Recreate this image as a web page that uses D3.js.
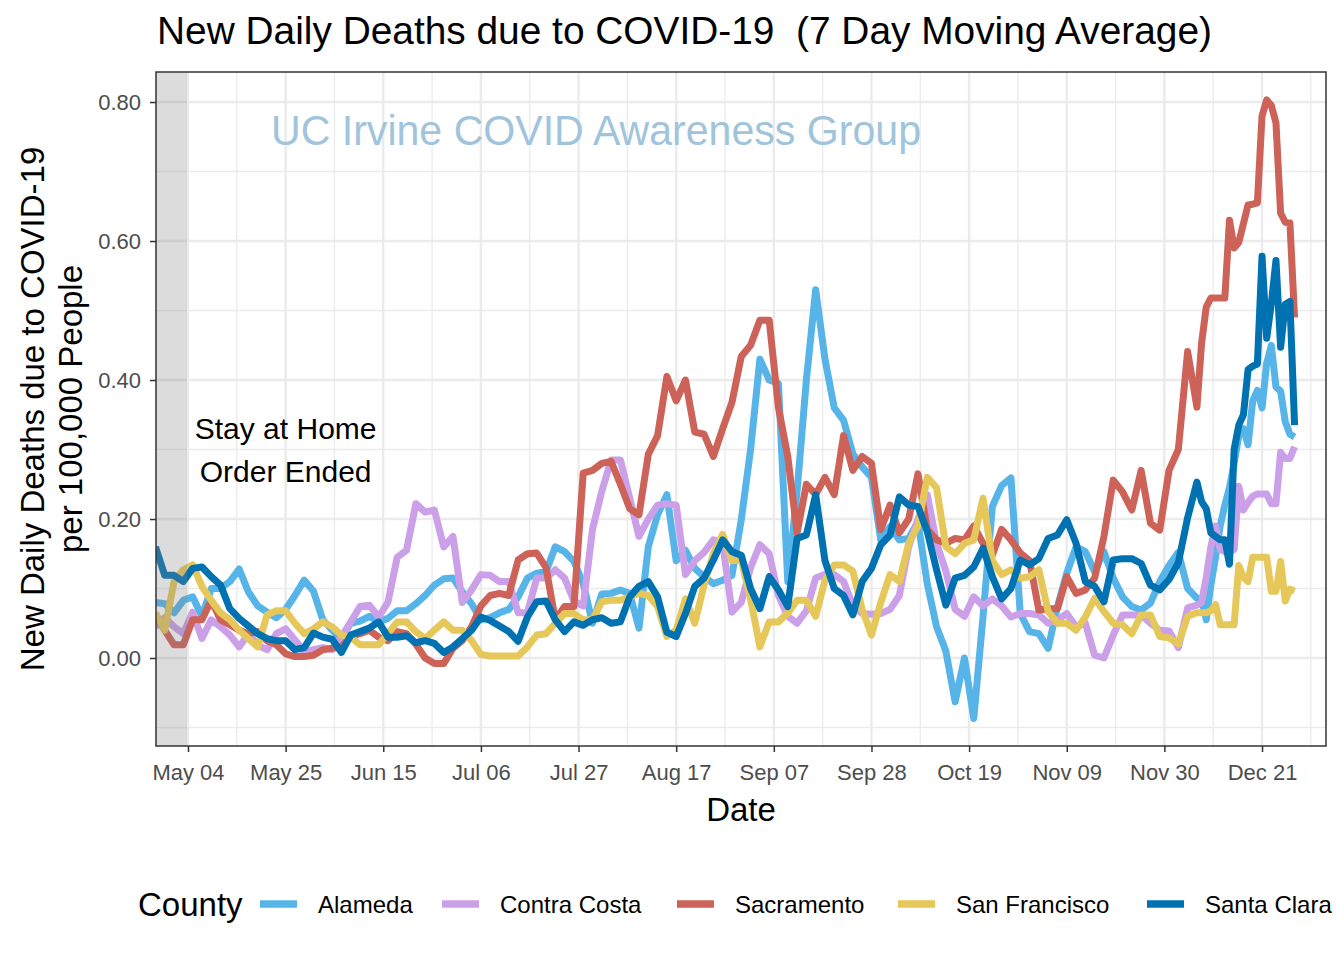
<!DOCTYPE html>
<html><head><meta charset="utf-8">
<script src="https://cdn.jsdelivr.net/npm/d3@7"></script>
<style>
body{margin:0;background:#fff;}
text{font-family:"Liberation Sans",Arial,Helvetica,sans-serif;}
</style></head>
<body>
<svg id="c" width="1344" height="960"></svg>
<script>
// ---------------- DATA ----------------
const counties = ["Alameda","Contra Costa","Sacramento","San Francisco","Santa Clara"];
const countyColors = ["#56B4E9","#CBA0E8","#CD6259","#E6C85A","#0072B2"];
// day offsets from 2020-04-27 (every 2 days, then daily from Dec 07)
const dayOffsets = d3.range(0,224,2).concat(d3.range(224,246));
const alameda = [
0.080,0.078,0.065,0.083,0.088,0.060,0.100,0.100,0.110,0.128,
0.095,0.075,0.066,0.058,0.070,0.090,0.112,0.096,0.055,0.040,
0.028,0.050,0.053,0.060,0.052,0.057,0.068,0.068,0.078,0.090,
0.105,0.114,0.115,0.095,0.078,0.055,0.058,0.065,0.070,0.088,
0.115,0.122,0.124,0.160,0.153,0.139,0.107,0.050,0.092,0.093,
0.098,0.093,0.043,0.160,0.206,0.235,0.140,0.155,0.129,0.117,
0.107,0.112,0.119,0.199,0.300,0.430,0.400,0.395,0.110,0.240,
0.400,0.530,0.430,0.360,0.342,0.294,0.275,0.260,0.170,0.189,
0.170,0.172,0.196,0.107,0.045,0.010,-0.063,0.000,-0.087,0.060,
0.218,0.248,0.259,0.064,0.038,0.035,0.014,0.074,0.122,0.160,
0.153,0.124,0.153,0.115,0.088,0.074,0.069,0.079,0.110,0.133,
0.152,0.100,
0.086,0.085,0.055,0.105,0.145,0.190,0.220,0.245,0.280,0.320,0.330,0.307,0.370,0.385,0.360,0.424,0.450,0.390,0.384,0.340,0.322,0.318];
const contraCosta = [
0.045,0.058,0.045,0.035,0.066,0.028,0.055,0.045,0.033,0.016,
0.035,0.018,0.012,0.035,0.042,0.026,0.009,0.012,0.015,0.012,
0.030,0.052,0.074,0.076,0.059,0.080,0.145,0.155,0.222,0.210,
0.213,0.160,0.175,0.080,0.098,0.120,0.119,0.110,0.110,0.065,
0.065,0.115,0.115,0.127,0.115,0.082,0.075,0.185,0.240,0.285,
0.285,0.230,0.175,0.200,0.220,0.222,0.220,0.120,0.140,0.152,
0.170,0.165,0.066,0.080,0.130,0.163,0.150,0.090,0.060,0.050,
0.068,0.115,0.120,0.120,0.110,0.076,0.064,0.063,0.064,0.070,
0.090,0.160,0.200,0.235,0.165,0.125,0.070,0.060,0.088,0.075,
0.085,0.075,0.059,0.064,0.064,0.062,0.050,0.055,0.064,0.045,
0.050,0.004,0.000,0.033,0.062,0.062,0.062,0.050,0.040,0.039,
0.015,0.072,
0.076,0.080,0.116,0.160,0.190,0.156,0.153,0.153,0.156,0.247,0.213,0.224,0.233,0.236,0.236,0.236,0.222,0.222,0.296,0.287,0.287,0.304];
const sacramento = [
0.062,0.040,0.019,0.019,0.055,0.055,0.083,0.055,0.048,0.040,
0.035,0.038,0.025,0.019,0.006,0.002,0.002,0.004,0.012,0.014,
0.016,0.031,0.035,0.040,0.030,0.025,0.038,0.035,0.020,0.000,
-0.008,-0.008,0.014,0.025,0.045,0.075,0.090,0.093,0.090,0.141,
0.150,0.151,0.130,0.055,0.074,0.074,0.266,0.270,0.280,0.283,
0.250,0.215,0.206,0.293,0.320,0.405,0.370,0.400,0.325,0.322,
0.290,0.330,0.368,0.434,0.450,0.486,0.486,0.360,0.290,0.180,
0.250,0.235,0.260,0.235,0.320,0.270,0.290,0.280,0.185,0.220,
0.180,0.200,0.265,0.185,0.170,0.165,0.172,0.170,0.190,0.165,
0.148,0.185,0.170,0.151,0.140,0.069,0.071,0.071,0.117,0.093,
0.098,0.115,0.175,0.256,0.239,0.213,0.270,0.194,0.184,0.270,
0.300,0.441,
0.361,0.453,0.505,0.518,0.518,0.518,0.518,0.630,0.590,0.598,0.625,0.652,0.653,0.655,0.780,0.803,0.795,0.770,0.640,0.627,0.626,0.490];
const sanFrancisco = [
0.065,0.040,0.110,0.127,0.134,0.103,0.083,0.065,0.055,0.040,
0.028,0.016,0.062,0.068,0.068,0.050,0.035,0.042,0.052,0.045,
0.033,0.030,0.019,0.019,0.019,0.035,0.052,0.052,0.038,0.028,
0.040,0.052,0.040,0.040,0.025,0.005,0.003,0.003,0.003,0.003,
0.016,0.033,0.035,0.050,0.064,0.064,0.055,0.055,0.081,0.083,
0.083,0.088,0.093,0.090,0.074,0.031,0.040,0.085,0.050,0.105,
0.150,0.178,0.140,0.141,0.085,0.016,0.052,0.052,0.065,0.083,
0.083,0.060,0.112,0.134,0.134,0.125,0.070,0.033,0.080,0.120,
0.110,0.165,0.190,0.260,0.245,0.160,0.150,0.165,0.170,0.230,
0.140,0.120,0.127,0.115,0.117,0.127,0.067,0.050,0.050,0.040,
0.059,0.086,0.067,0.050,0.048,0.035,0.062,0.062,0.031,0.029,
0.020,0.060,
0.065,0.065,0.065,0.068,0.077,0.048,0.048,0.048,0.048,0.133,0.116,0.110,0.145,0.145,0.145,0.145,0.096,0.096,0.139,0.082,0.099,0.096];
const santaClara = [
0.160,0.119,0.119,0.110,0.129,0.131,0.117,0.105,0.071,0.057,
0.046,0.035,0.028,0.025,0.025,0.012,0.015,0.036,0.030,0.027,
0.008,0.033,0.038,0.043,0.052,0.030,0.030,0.032,0.022,0.025,
0.021,0.008,0.016,0.028,0.040,0.059,0.054,0.046,0.038,0.024,
0.059,0.081,0.082,0.055,0.038,0.052,0.047,0.055,0.058,0.050,
0.052,0.088,0.103,0.110,0.088,0.037,0.031,0.064,0.103,0.115,
0.141,0.170,0.153,0.148,0.100,0.071,0.117,0.098,0.074,0.172,
0.177,0.235,0.140,0.100,0.090,0.062,0.110,0.129,0.163,0.177,
0.232,0.220,0.218,0.182,0.127,0.076,0.115,0.119,0.131,0.158,
0.117,0.085,0.100,0.141,0.134,0.143,0.172,0.177,0.199,0.165,
0.110,0.103,0.081,0.141,0.143,0.143,0.136,0.105,0.098,0.113,
0.137,0.202,
0.253,0.225,0.215,0.180,0.175,0.170,0.170,0.135,0.300,0.335,0.350,0.415,0.420,0.423,0.578,0.460,0.510,0.572,0.447,0.509,0.513,0.335];
const seriesValues = [alameda, contraCosta, sacramento, sanFrancisco, santaClara];
const yTicks = [0, 0.2, 0.4, 0.6, 0.8];
const yMinor = [-0.1, 0.1, 0.3, 0.5, 0.7];
const xTickLabels = ["May 04","May 25","Jun 15","Jul 06","Jul 27","Aug 17","Sep 07","Sep 28","Oct 19","Nov 09","Nov 30","Dec 21"];

// ---------------- LAYOUT ----------------
const P = {l:156, r:1326, t:72, b:746};
const DAY = 864e5;
const utc = (m,d) => new Date(Date.UTC(2020,m,d));
const dates = dayOffsets.map(o => utc(3, 27 + o));
const tickDates = xTickLabels.map((_,i) => utc(4, 4 + 21*i));
const x = d3.scaleUtc()
  .domain([new Date(+utc(4,4) - 6.88*DAY), new Date(+utc(11,21) + 13.76*DAY)])
  .range([P.l, P.r]);
const y = d3.scaleLinear().domain([-0.1266, 0.8432]).range([P.b, P.t]);

const svg = d3.select("#c");
svg.append("rect").attr("width",1344).attr("height",960).attr("fill","#fff");

// panel
svg.append("rect").attr("x",P.l).attr("y",P.t).attr("width",P.r-P.l).attr("height",P.b-P.t).attr("fill","#fff");
svg.append("clipPath").attr("id","clip").append("rect")
  .attr("x",P.l).attr("y",P.t).attr("width",P.r-P.l).attr("height",P.b-P.t);

const grid = svg.append("g").attr("clip-path","url(#clip)");
const minorX = d3.range(0,13).map(i => new Date(+utc(4,4) + (21*i - 10.5)*DAY))
  .filter(d => d >= x.domain()[0] && d <= x.domain()[1]);
grid.selectAll(".mx").data(minorX).join("line")
  .attr("x1",d=>x(d)).attr("x2",d=>x(d)).attr("y1",P.t).attr("y2",P.b)
  .attr("stroke","#EBEBEB").attr("stroke-width",1.3);
grid.selectAll(".my").data(yMinor).join("line")
  .attr("y1",d=>y(d)).attr("y2",d=>y(d)).attr("x1",P.l).attr("x2",P.r)
  .attr("stroke","#EBEBEB").attr("stroke-width",1.3);
grid.selectAll(".Mx").data(tickDates).join("line")
  .attr("x1",d=>x(d)).attr("x2",d=>x(d)).attr("y1",P.t).attr("y2",P.b)
  .attr("stroke","#EBEBEB").attr("stroke-width",2.4);
grid.selectAll(".My").data(yTicks).join("line")
  .attr("y1",d=>y(d)).attr("y2",d=>y(d)).attr("x1",P.l).attr("x2",P.r)
  .attr("stroke","#EBEBEB").attr("stroke-width",2.4);

// lines
const line = d3.line().x((d,i)=>x(dates[i])).y(d=>y(d));
const lg = svg.append("g").attr("clip-path","url(#clip)");
seriesValues.forEach((vals,si)=>{
  lg.append("path").datum(vals).attr("d",line)
    .attr("fill","none").attr("stroke",countyColors[si])
    .attr("stroke-width",7).attr("stroke-linejoin","round").attr("stroke-linecap","butt");
});

// stay-at-home shaded band (drawn over lines, semi-transparent)
svg.append("rect").attr("x",P.l).attr("y",P.t)
  .attr("width", x(new Date(+utc(4,4) - 0.2*DAY)) - P.l).attr("height",P.b-P.t)
  .attr("fill","#808080").attr("fill-opacity",0.28);

// annotation
const ann = svg.append("text").attr("text-anchor","middle").attr("font-size",30).attr("fill","#000");
ann.append("tspan").attr("x",x(utc(4,25))).attr("y",439).text("Stay at Home");
ann.append("tspan").attr("x",x(utc(4,25))).attr("y",482).text("Order Ended");

// watermark
svg.append("text").attr("x",271).attr("y",145).attr("font-size",42).attr("fill","#A0C4DC")
  .attr("textLength",650).attr("lengthAdjust","spacingAndGlyphs")
  .text("UC Irvine COVID Awareness Group");

// border
svg.append("rect").attr("x",P.l).attr("y",P.t).attr("width",P.r-P.l).attr("height",P.b-P.t)
  .attr("fill","none").attr("stroke","#333333").attr("stroke-width",1.5);

// axes
const yAxis = svg.append("g").attr("transform",`translate(${P.l},0)`)
  .call(d3.axisLeft(y).tickValues(yTicks).tickFormat(d3.format(".2f")).tickSize(6).tickPadding(9));
const xAxis = svg.append("g").attr("transform",`translate(0,${P.b})`)
  .call(d3.axisBottom(x).tickValues(tickDates).tickFormat((d,i)=>xTickLabels[i]).tickSize(6).tickPadding(12));
[yAxis,xAxis].forEach(a=>{
  a.select(".domain").remove();
  a.selectAll(".tick line").attr("stroke","#333333").attr("stroke-width",1.5);
  a.selectAll(".tick text").attr("fill","#4D4D4D").attr("font-size",22)
    .attr("font-family",'"Liberation Sans",Arial,sans-serif');
});

// titles
svg.append("text").attr("x",157).attr("y",44).attr("font-size",38).attr("fill","#000")
  .attr("textLength",1055).attr("lengthAdjust","spacingAndGlyphs")
  .style("white-space","pre").text("New Daily Deaths due to COVID-19  (7 Day Moving Average)");
svg.append("text").attr("x",(P.l+P.r)/2).attr("y",821).attr("text-anchor","middle")
  .attr("font-size",33).attr("fill","#000").text("Date");
const yt = svg.append("text").attr("transform",`translate(0,${(P.t+P.b)/2}) rotate(-90)`)
  .attr("text-anchor","middle").attr("font-size",33).attr("fill","#000");
yt.append("tspan").attr("x",0).attr("y",44).text("New Daily Deaths due to COVID-19");
yt.append("tspan").attr("x",0).attr("y",82).text("per 100,000 People");

// legend
const legY = 904;
svg.append("text").attr("x",138).attr("y",legY+12).attr("font-size",33).attr("fill","#000").text("County");
const keyX = [260, 442, 677, 898, 1147];
counties.forEach((c,i)=>{
  svg.append("line").attr("x1",keyX[i]).attr("x2",keyX[i]+37).attr("y1",legY).attr("y2",legY)
    .attr("stroke",countyColors[i]).attr("stroke-width",7.5);
  svg.append("text").attr("x",keyX[i]+58).attr("y",legY+9).attr("font-size",24).attr("fill","#000").text(c);
});
</script>
</body></html>
